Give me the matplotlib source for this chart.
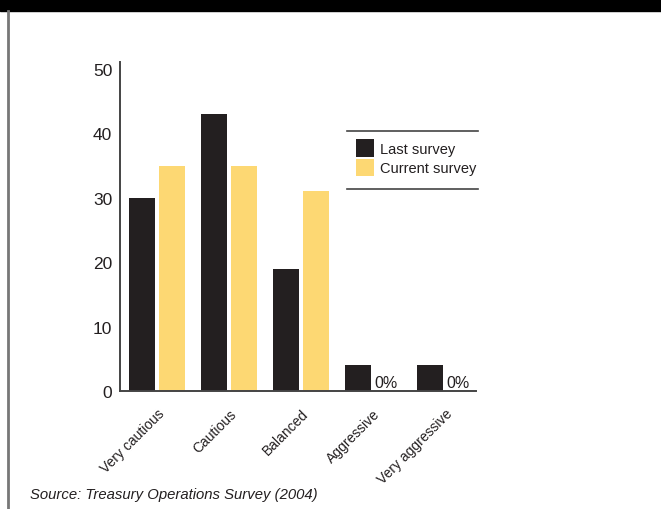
import matplotlib
matplotlib.use('Agg')
import matplotlib.pyplot as plt
import numpy as np
from matplotlib.patches import Rectangle
from matplotlib.lines import Line2D

plt.rcParams['font.family'] = ['Liberation Sans', 'DejaVu Sans']

# Datos
categorias = ['Very cautious', 'Cautious', 'Balanced', 'Aggressive', 'Very aggressive']
last_survey = [30, 43, 19, 4, 4]
current_survey = [35, 35, 31, 0, 0]
etiquetas_y = [0, 10, 20, 30, 40, 50]

negro = '#231f20'
amarillo = '#fdd873'
texto = '#231f20'

fig = plt.figure(figsize=(6.61, 5.10), dpi=100)
ax = fig.add_axes([120/661, 1 - 392/510, 356/661, 329/510])

x = np.arange(len(categorias))
ancho = 0.361
off = 0.208

ax.bar(x - off, last_survey, ancho, color=negro, label='Last survey')
ax.bar(x + off, current_survey, ancho, color=amarillo, label='Current survey')

# Etiquetas 0% para barras vacías
for i, v in enumerate(current_survey):
    if v == 0:
        ax.text(x[i] + 0.02, 0.15, '0%', ha='left', va='bottom',
                fontsize=11.5, color=texto)

ax.set_xlim(-0.517, 4.431)
ax.set_ylim(0, 51.1)
ax.set_yticks(etiquetas_y)
ax.set_yticklabels([str(v) for v in etiquetas_y], fontsize=12.5, color=texto)
ax.set_xticks(x)
ax.set_xticklabels(categorias, rotation=45, ha='right', va='top',
                   rotation_mode='anchor', fontsize=10, color=texto)
ax.tick_params(axis='both', length=0)
ax.tick_params(axis='y', pad=5.5)
ax.tick_params(axis='x', pad=11)

for s in ['top', 'right']:
    ax.spines[s].set_visible(False)
for s in ['left', 'bottom']:
    ax.spines[s].set_color('#444444')
    ax.spines[s].set_linewidth(1.4)

# Leyenda
leg = ax.legend(loc='upper left', bbox_to_anchor=(356/661, 1 - 140/510),
                bbox_transform=fig.transFigure, frameon=False, fontsize=10.5,
                handlelength=1.25, handleheight=1.5, handletextpad=0.4,
                labelspacing=0.12, borderpad=0, borderaxespad=0)
for t in leg.get_texts():
    t.set_color(texto)

fig.add_artist(Line2D([347/661, 478/661], [1 - 132/510, 1 - 132/510],
                      color='#444444', lw=1.2, transform=fig.transFigure))
fig.add_artist(Line2D([347/661, 478/661], [1 - 190/510, 1 - 190/510],
                      color='#444444', lw=1.2, transform=fig.transFigure))

# Marco: banda negra superior y línea izquierda
fig.add_artist(Rectangle((0, 1 - 12/510), 1, 12/510, color='black',
                         transform=fig.transFigure))
fig.add_artist(Line2D([8/661, 8/661], [0, 1 - 12/510], color='#777777',
                      lw=2, transform=fig.transFigure))

fig.text(30/661, 1 - 495/510, 'Source: Treasury Operations Survey (2004)',
         fontsize=10.7, style='italic', color=texto, va='center', ha='left')

fig.savefig('out.png', dpi=100)
